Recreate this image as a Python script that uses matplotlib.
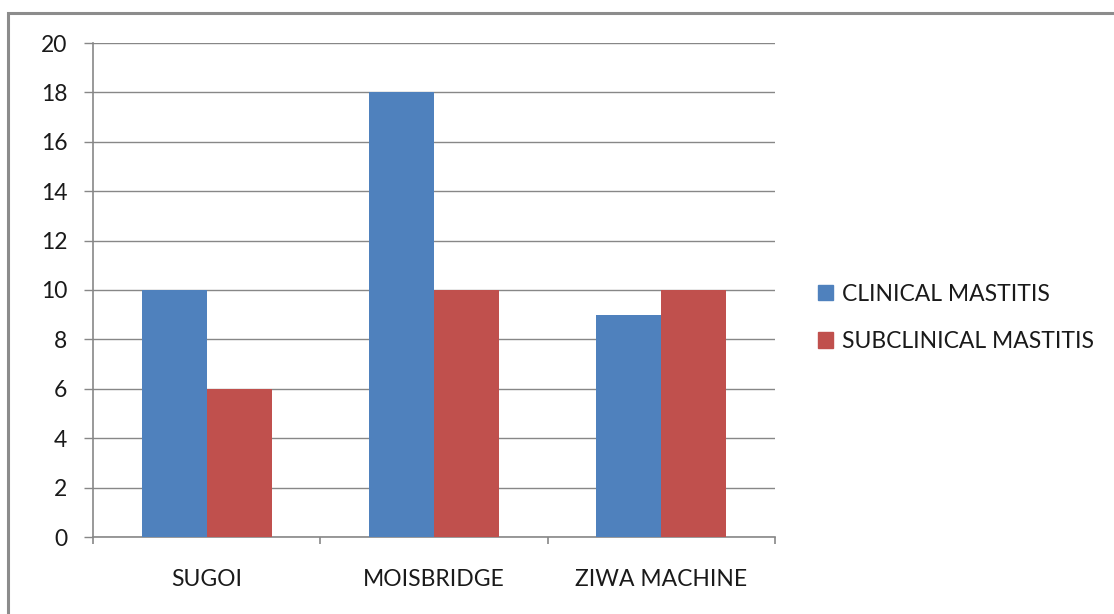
import numpy as np
import matplotlib
matplotlib.use("Agg")
import matplotlib.pyplot as plt
from matplotlib.patches import Rectangle, Patch

categories = ["SUGOI", "MOISBRIDGE", "ZIWA MACHINE"]
clinical = [10, 18, 9]
subclinical = [6, 10, 10]
series_names = ["CLINICAL MASTITIS", "SUBCLINICAL MASTITIS"]
y_ticks = [0, 2, 4, 6, 8, 10, 12, 14, 16, 18, 20]

BLUE = "#4F81BD"
RED = "#C0504D"
GRID = "#878787"
FS = 16.5

plt.rcParams["font.family"] = ["Lato", "DejaVu Sans"]

fig = plt.figure(figsize=(11.14, 6.14), dpi=100)
# outer chart border (Excel chart area)
fig.patches.append(Rectangle((8 / 1114, -0.05), 1.2, 1 - 13 / 614 + 0.05,
                             transform=fig.transFigure, fill=False,
                             edgecolor="#8c8c8c", linewidth=2.2))

ax = fig.add_axes([93 / 1114, 1 - 537 / 614, (775 - 93) / 1114, (537 - 43) / 614])

x = np.arange(len(categories))
w = 1 / 3.5
ax.bar(x - w / 2, clinical, w, color=BLUE, zorder=3, label=series_names[0])
ax.bar(x + w / 2, subclinical, w, color=RED, zorder=3, label=series_names[1])

ax.set_xlim(-0.5, len(categories) - 0.5)
ax.set_ylim(0, 20)
ax.set_yticks(y_ticks)
ax.set_yticklabels([str(v) for v in y_ticks], fontsize=FS, color="#1a1a1a")
ax.yaxis.grid(True, color=GRID, linewidth=1.0, zorder=0)

# category boundaries as ticks, labels at centres
ax.set_xticks(np.arange(-0.5, len(categories), 1.0))
ax.set_xticklabels([])
ax.set_xticks(x, minor=True)
ax.set_xticklabels(categories, minor=True, fontsize=FS, color="#1a1a1a")
ax.tick_params(axis="x", which="major", length=5, color=GRID, width=1.2)
ax.tick_params(axis="x", which="minor", length=0, pad=23)
ax.tick_params(axis="y", length=6.5, color=GRID, width=1.0, pad=12)

for side in ["top", "right"]:
    ax.spines[side].set_visible(False)
for side in ["left", "bottom"]:
    ax.spines[side].set_color(GRID)
    ax.spines[side].set_linewidth(1.2)

handles = [Patch(color=BLUE), Patch(color=RED)]
fig.legend(handles, series_names, loc="center left",
           bbox_to_anchor=(797 / 1114, 1 - 318 / 614), frameon=False,
           fontsize=FS, handlelength=0.65, handleheight=0.65,
           handletextpad=0.4, labelspacing=1.15, labelcolor="#1a1a1a")

fig.savefig("out.png", dpi=100)
